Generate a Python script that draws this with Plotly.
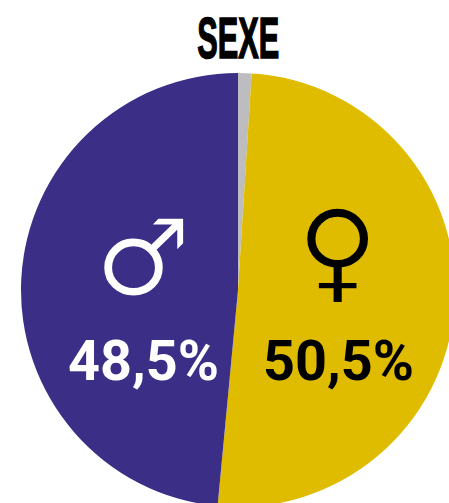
import plotly.graph_objects as go

categories = ["Non renseigné", "Femmes", "Hommes"]
shares = [1.0, 50.5, 48.5]
colors = ["#BDBDBF", "#DFBC00", "#3A2E87"]
title_text = "SEXE"
labels_text = ["48,5%", "50,5%"]
symbols = ["♂", "♀"]

W, H = 460, 520
cx, cy, r = 238, 290, 217

fig = go.Figure(go.Pie(
    labels=categories, values=shares, sort=False, direction="clockwise", rotation=0,
    marker=dict(colors=colors, line=dict(width=0)),
    textinfo="none", hoverinfo="skip", showlegend=False,
    domain=dict(x=[(cx - r) / W, (cx + r) / W], y=[1 - (cy + r) / H, 1 - (cy - r) / H]),
))

def note(x, y, text, size, color, family, weight="normal"):
    fig.add_annotation(x=x / W, y=1 - y / H, xref="paper", yref="paper", text=text, showarrow=False,
                       xanchor="center", yanchor="middle",
                       font=dict(size=size, color=color, family=family, weight=weight))

note(238, 38, title_text, 58, "#000000", "Liberation Sans", "bold")
note(143, 258, symbols[0], 107, "#FFFFFF", "DejaVu Sans")
note(337.5, 250, symbols[1], 111, "#000000", "DejaVu Sans")
note(143, 361, labels_text[0], 55.8, "#FFFFFF", "Roboto", "bold")
note(338, 361, labels_text[1], 55.8, "#000000", "Roboto", "bold")

fig.update_layout(width=W, height=H, autosize=False, margin=dict(l=0, r=0, t=0, b=0),
                  paper_bgcolor="#FFFFFF", plot_bgcolor="#FFFFFF")

post = """
document.documentElement.style.overflow='hidden';
document.body.style.margin='0';
document.body.style.overflow='hidden';
var a=document.querySelectorAll('.annotation-text');
var t=a[0];
if(t){var b=t.getBBox();var c=b.x+b.width/2;
t.setAttribute('transform','translate('+c+' 0) scale(0.53 1) translate('+(-c)+' 0)');
t.style.stroke='#000';t.style.strokeWidth='1.6px';}
if(a[1]){a[1].style.stroke='#3A2E87';a[1].style.strokeWidth='1.6px';}
if(a[2]){a[2].style.stroke='#DFBC00';a[2].style.strokeWidth='1.6px';}
"""
fig.write_html("out.html", post_script=post, config=dict(displayModeBar=False))
